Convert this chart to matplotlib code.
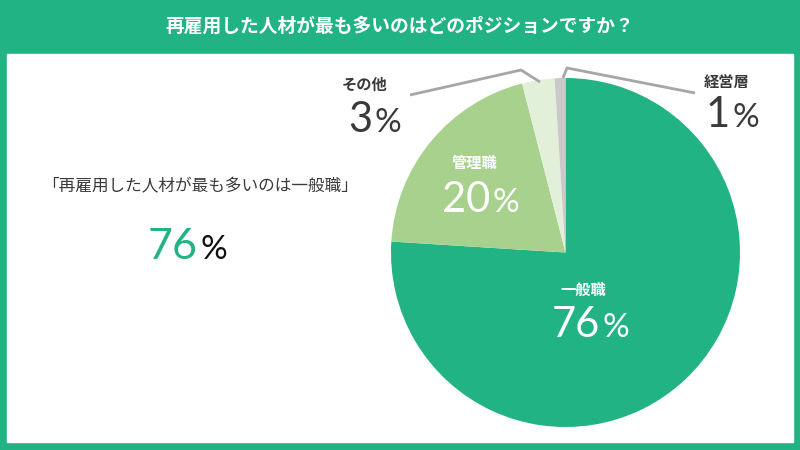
import matplotlib
matplotlib.use("Agg")
import matplotlib.pyplot as plt
from matplotlib.patches import Rectangle

plt.rcParams['font.family'] = ['Noto Sans CJK JP', 'DejaVu Sans']

title = "再雇用した人材が最も多いのはどのポジションですか？"
headline = "「再雇用した人材が最も多いのは一般職」"
labels = ["一般職", "管理職", "その他", "経営層"]
values = [76, 20, 3, 1]
colors = ["#22b384", "#a9d18e", "#e2efd9", "#c9c9c9"]

green = "#22b384"
dark = "#3a3a3a"
numfont = "Lato"

fig = plt.figure(figsize=(8, 4.5), dpi=100)
ax = fig.add_axes([0, 0, 1, 1])
ax.set_xlim(0, 800)
ax.set_ylim(0, 450)
ax.axis("off")

def Y(y):
    return 450 - y

# background frame
ax.add_patch(Rectangle((0, 0), 800, 450, color=green, zorder=0))
ax.add_patch(Rectangle((7, Y(442)), 786, 388, color="white", zorder=1))
ax.text(400, Y(26), title, color="white", fontsize=13.5, fontweight="bold",
        ha="center", va="center", zorder=3)

# pie
cx, cy, r = 565.5, Y(252.5), 174.5
ax.pie(values, colors=colors, startangle=90, counterclock=False,
       center=(cx, cy), radius=r, wedgeprops=dict(linewidth=0))
ax.set_xlim(0, 800)
ax.set_ylim(0, 450)
ax.set_aspect("equal")
ax.axis("off")
for p in ax.patches[2:]:
    p.set_zorder(2)

def pct(x, y, num, color, size=30, psize=24):
    ax.text(x, Y(y), str(num), color=color, fontsize=size, ha="right",
            va="baseline", fontfamily=numfont, zorder=4)
    ax.text(x + 2, Y(y), "%", color=color, fontsize=psize, ha="left",
            va="baseline", fontfamily=numfont, zorder=4)

# in-pie labels
ax.text(583, Y(290), labels[0], color="white", fontsize=11, fontweight="bold",
        ha="center", va="center", zorder=4)
pct(600, 337, values[0], "white")
ax.text(475, Y(163), labels[1], color="white", fontsize=11, fontweight="bold",
        ha="center", va="center", zorder=4)
pct(490, 212, values[1], "white")

# outside labels
ax.text(365, Y(85), labels[2], color=dark, fontsize=11, fontweight="bold",
        ha="center", va="center", zorder=4)
pct(372, 132, values[2], dark)
ax.text(727, Y(82), labels[3], color=dark, fontsize=11, fontweight="bold",
        ha="center", va="center", zorder=4)
pct(730, 127, values[3], dark)

# leader lines
ax.plot([410, 521, 540], [Y(95), Y(70), Y(82)], color="#a6a6a6", lw=2, zorder=3,
        solid_capstyle="butt")
ax.plot([563, 567, 695], [Y(78), Y(68), Y(93)], color="#a6a6a6", lw=2, zorder=3,
        solid_capstyle="butt")

# left headline
ax.text(200, Y(187), headline, color=dark, fontsize=12, ha="center",
        va="center", zorder=4)
ax.text(198, Y(259), str(values[0]), color=green, fontsize=31, ha="right",
        va="baseline", fontfamily=numfont, zorder=4)
ax.text(201, Y(259), "%", color="#111111", fontsize=24, ha="left",
        va="baseline", fontfamily=numfont, zorder=4)

fig.savefig("out.png", dpi=100)
